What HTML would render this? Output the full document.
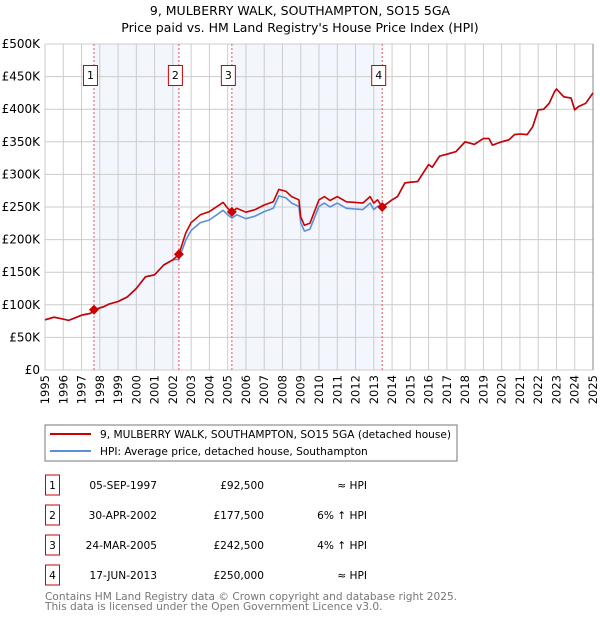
<!DOCTYPE html>
<html><head><meta charset="utf-8"><style>
body{margin:0;background:#fff;width:600px;height:620px;overflow:hidden;font-family:"DejaVu Sans","Liberation Sans",sans-serif;}
svg text{font-family:"DejaVu Sans","Liberation Sans",sans-serif;}
</style></head><body>
<svg id="c" width="600" height="620" xmlns="http://www.w3.org/2000/svg">
<text x="300" y="15" text-anchor="middle" font-size="12.5" fill="#000">9, MULBERRY WALK, SOUTHAMPTON, SO15 5GA</text>
<text x="300" y="32" text-anchor="middle" font-size="12.5" fill="#000">Price paid vs. HM Land Registry's House Price Index (HPI)</text>
<g id="plot"></g>
<rect x="45" y="425" width="412" height="36" fill="#fff" stroke="#777"/>
<line x1="50" y1="434" x2="91" y2="434" stroke="#cc0000" stroke-width="2"/>
<text x="100" y="438" font-size="10.6">9, MULBERRY WALK, SOUTHAMPTON, SO15 5GA (detached house)</text>
<line x1="50" y1="451" x2="91" y2="451" stroke="#5b8fd6" stroke-width="2"/>
<text x="100" y="455" font-size="10.6">HPI: Average price, detached house, Southampton</text>
<g id="table" font-size="10.6"></g>
<text x="45" y="600" font-size="10.6" fill="#777">Contains HM Land Registry data © Crown copyright and database right 2025.</text>
<text x="45" y="610" font-size="10.6" fill="#777">This data is licensed under the Open Government Licence v3.0.</text>
</svg>
<script>
const yTicks=[0,50,100,150,200,250,300,350,400,450,500];
const yTickLabels=["£0","£50K","£100K","£150K","£200K","£250K","£300K","£350K","£400K","£450K","£500K"];
const xYears=[1995,1996,1997,1998,1999,2000,2001,2002,2003,2004,2005,2006,2007,2008,2009,2010,2011,2012,2013,2014,2015,2016,2017,2018,2019,2020,2021,2022,2023,2024,2025];
const redT=[1995,1995.5,1996,1996.3,1997,1997.5,1997.68,1998.2,1998.5,1999,1999.5,2000,2000.5,2001,2001.5,2002,2002.33,2002.7,2003,2003.5,2004,2004.75,2005,2005.23,2005.5,2006,2006.5,2007,2007.5,2007.8,2008.2,2008.5,2008.9,2009,2009.2,2009.5,2010,2010.3,2010.6,2011,2011.5,2012,2012.4,2012.8,2013,2013.2,2013.46,2014,2014.3,2014.7,2015,2015.4,2016,2016.2,2016.6,2017,2017.5,2018,2018.5,2019,2019.3,2019.5,2020,2020.4,2020.7,2021,2021.4,2021.7,2022,2022.3,2022.6,2022.9,2023,2023.4,2023.8,2024,2024.2,2024.6,2025];
const redV=[77,81,78,76,84,87,92.5,97,101,105,112,125,143,146,161,169,177.5,210,226,238,243,257,248,242.5,248,242,246,253,258,277,274,266,261,235,222,225,261,266,260,266,258,257,256,266,256,261,250,261,266,287,288,289,315,311,328,331,335,350,346,355,355,345,350,353,361,362,361,373,399,400,409,427,431,419,417,399,404,409,425];
const blueV=[77,81,78,76,84,87,92.5,97,101,105,112,125,143,146,161,169,170,199,214,226,230,245,238,233,238,232,236,243,248,267,264,256,251,226,213,216,251,256,250,256,248,247,246,256,246,251,250,261,266,287,288,289,315,311,328,331,335,350,346,355,355,345,350,353,361,362,361,373,399,400,409,427,431,419,417,399,404,409,425];
const saleT=[1997.68,2002.33,2005.23,2013.46];
const saleV=[92.5,177.5,242.5,250];
const saleLabels=["1","2","3","4"];
const saleDates=["05-SEP-1997","30-APR-2002","24-MAR-2005","17-JUN-2013"];
const salePrices=["£92,500","£177,500","£242,500","£250,000"];
const saleRel=["≈ HPI","6% ↑ HPI","4% ↑ HPI","≈ HPI"];

const L=45,R=593,T=44,B=370;
const X=t=>L+(t-1995)*(R-L)/30;
const Y=v=>B-v*(B-T)/500;
const NS="http://www.w3.org/2000/svg";
function mk(p,tag,a){const e=document.createElementNS(NS,tag);for(const k in a)e.setAttribute(k,a[k]);p.appendChild(e);return e;}
const g=document.getElementById('plot');
let e;
e=mk(g,'rect',{x:L,y:T,width:R-L,height:B-T,fill:'#fff'});


for(let i=0;i<saleT.length;i+=2){
 e=mk(g,'rect',{x:X(saleT[i]),y:T,width:X(saleT[i+1])-X(saleT[i]),height:B-T,fill:'#f3f6fd'});
 
 
}
xYears.forEach(yr=>{
 e=mk(g,'line',{x1:X(yr),x2:X(yr),y1:T,y2:B,stroke:'#ccc','stroke-width':1});
 
 
 e=mk(g,'text',{x:0,y:0,'font-size':11.5,'text-anchor':'end',transform:`translate(${X(yr)+4},${B+5}) rotate(-90)`});
 e.textContent=yr;
 
 
});
yTicks.forEach((v,i)=>{
 e=mk(g,'line',{x1:L,x2:R,y1:Y(v),y2:Y(v),stroke:'#ccc','stroke-width':1});
 
 
 e=mk(g,'text',{x:L-5,y:Y(v)+4,'font-size':12,'text-anchor':'end'});
 e.textContent=yTickLabels[i];
 
 
});
e=mk(g,'line',{x1:R,x2:R,y1:T,y2:B,stroke:'#888','stroke-width':1});


saleT.forEach((t,i)=>{
 e=mk(g,'line',{x1:X(t),x2:X(t),y1:T,y2:B,stroke:'#ee5555','stroke-width':1,'stroke-dasharray':'2,2'});
 
 
 e=mk(g,'rect',{x:X(t)-10.5,y:65.5,width:14,height:20,fill:'#fff',stroke:'#cc0000','stroke-width':1});
 
 
 e=mk(g,'text',{x:X(t)-3.5,y:79,'font-size':11,'text-anchor':'middle'});
 e.textContent=saleLabels[i];
 
 
});
function path(vals,color,name){
 const d=redT.map((t,i)=>(i?'L':'M')+X(t).toFixed(1)+','+Y(vals[i]).toFixed(1)).join('');
 const p=mk(g,'path',{d:d,fill:'none',stroke:color,'stroke-width':1.6,'stroke-linejoin':'round'});
 
 
}
path(blueV,'#5b8fd6','hpi-line');
path(redV,'#cc0000','property-price-line');
saleT.forEach((t,i)=>{
 const cx=X(t),cy=Y(saleV[i]);
 e=mk(g,'path',{d:`M${cx},${cy-5}L${cx+5},${cy}L${cx},${cy+5}L${cx-5},${cy}Z`,fill:'#cc0000'});
 
 
});
const tb=document.getElementById('table');
saleT.forEach((t,i)=>{
 const y=485+i*30;
 e=mk(tb,'rect',{x:45.5,y:y-10,width:14,height:20,fill:'#fff',stroke:'#cc0000'});
 
 
 e=mk(tb,'text',{x:52.5,y:y+4,'text-anchor':'middle'});e.textContent=saleLabels[i];
 
 
 e=mk(tb,'text',{x:157,y:y+4,'text-anchor':'end'});e.textContent=saleDates[i];
 
 
 e=mk(tb,'text',{x:264,y:y+4,'text-anchor':'end'});e.textContent=salePrices[i];
 
 
 e=mk(tb,'text',{x:367,y:y+4,'text-anchor':'end'});e.textContent=saleRel[i];
 
 
});
</script>
</body></html>
